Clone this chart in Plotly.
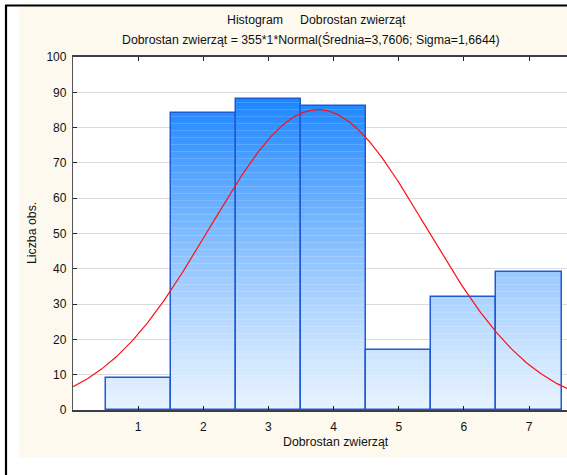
import numpy as np
import plotly.graph_objects as go

# ---- data ----
categories = [1, 2, 3, 4, 5, 6, 7]
counts = [9, 84, 88, 86, 17, 32, 39]
n_obs = 355
bin_width = 1
mean_val = 3.7606
sigma_val = 1.6644
y_ticks = [0, 10, 20, 30, 40, 50, 60, 70, 80, 90, 100]

title1 = "Histogram     Dobrostan zwierząt"
title2 = "Dobrostan zwierząt = 355*1*Normal(Średnia=3,7606; Sigma=1,6644)"
x_title = "Dobrostan zwierząt"
y_title = "Liczba obs."

# ---- geometry (pixels) ----
W, H = 567, 475
ML, MR, MT, MB = 73, 0, 57, 65
PW = W - ML - MR
PH = H - MT - MB
X_MAX = 7.583
FONT = "Liberation Sans, Arial, sans-serif"


def px_x(px):
    return (px - ML) / PW


def px_y(py):
    return (H - MB - py) / PH


# ---- gradient fill segments (colour depends on absolute y) ----
light = np.array([230, 242, 255])
dark = np.array([28, 134, 255])
top_ref = 88.0
seg_x, seg_base, seg_h, seg_col = [], [], [], []
step = 1.0
for c, v in zip(categories, counts):
    lo = 0.0
    while lo < v - 1e-9:
        hi = min(lo + step, v)
        t = min((lo + hi) / 2 / top_ref, 1.0) ** 1.2
        col = light + (dark - light) * t
        seg_x.append(c)
        seg_base.append(lo)
        seg_h.append(hi - lo)
        seg_col.append("rgb(%d,%d,%d)" % tuple(col.round().astype(int)))
        lo = hi

fig = go.Figure()
fig.add_trace(go.Bar(
    x=seg_x, y=seg_h, base=seg_base, width=1.0,
    marker=dict(color=seg_col, line=dict(width=0)),
    hoverinfo="skip", showlegend=False,
))
fig.add_trace(go.Bar(
    x=categories, y=counts, width=1.0,
    marker=dict(color="rgba(0,0,0,0)", line=dict(color="#1f5ad6", width=1.5),
                pattern=dict(shape="-", fgcolor="white", fgopacity=0.22,
                             size=7, solidity=0.1)),
    showlegend=False,
))

# normal curve from the stated fit parameters
xc = np.linspace(0, X_MAX, 400)
yc = n_obs * bin_width * np.exp(-0.5 * ((xc - mean_val) / sigma_val) ** 2) / (sigma_val * np.sqrt(2 * np.pi))
fig.add_trace(go.Scatter(x=xc, y=yc, mode="lines", line=dict(color="#ff1010", width=1.2),
                         showlegend=False, hoverinfo="skip"))

shapes = [
    # cream panel
    dict(type="rect", xref="paper", yref="paper", x0=px_x(19), x1=px_x(W + 5),
         y0=px_y(457.5), y1=px_y(6.5), fillcolor="#fdf9ee", line=dict(width=0), layer="below"),
    # white plot area
    dict(type="rect", xref="paper", yref="paper", x0=0, x1=1, y0=0, y1=1,
         fillcolor="white", line=dict(width=0), layer="below"),
    # black frame lines
    dict(type="line", xref="paper", yref="paper", x0=px_x(6), x1=px_x(6),
         y0=px_y(5), y1=px_y(H + 5), line=dict(color="black", width=2.2), layer="above"),
    dict(type="line", xref="paper", yref="paper", x0=px_x(5), x1=px_x(W + 5),
         y0=px_y(5.5), y1=px_y(5.5), line=dict(color="black", width=2.2), layer="above"),
]

annotations = [
    dict(text=title1, x=px_x(316), y=px_y(20), xref="paper", yref="paper",
         showarrow=False, font=dict(size=12.3, color="#111", family=FONT), xanchor="center", yanchor="middle"),
    dict(text=title2, x=px_x(311), y=px_y(40), xref="paper", yref="paper",
         showarrow=False, font=dict(size=12.3, color="#111", family=FONT), xanchor="center", yanchor="middle"),
    dict(text=x_title, x=px_x(336), y=px_y(442), xref="paper", yref="paper",
         showarrow=False, font=dict(size=12.3, color="#111", family=FONT), xanchor="center", yanchor="middle"),
    dict(text=y_title, x=px_x(32), y=px_y(233), xref="paper", yref="paper", textangle=-90,
         showarrow=False, font=dict(size=12.3, color="#111", family=FONT), xanchor="center", yanchor="middle"),
]

fig.update_layout(
    width=W, height=H, margin=dict(l=ML, r=MR, t=MT, b=MB, pad=0),
    paper_bgcolor="white", plot_bgcolor="white",
    barmode="overlay", bargap=0,
    font=dict(family=FONT, size=12, color="#111"),
    shapes=shapes, annotations=annotations,
    xaxis=dict(range=[0, X_MAX], tickvals=categories, ticktext=[str(c) for c in categories],
               showgrid=False, zeroline=False, showline=True, linecolor="#3a3d4a", linewidth=1.6,
               mirror="ticks", ticks="inside", ticklen=4, tickcolor="#222", tickwidth=1,
               ticklabelstandoff=5),
    yaxis=dict(range=[0, 100], tickvals=y_ticks, showgrid=True, gridcolor="#dcdcdc", gridwidth=1,
               zeroline=False, showline=True, linecolor="#555", linewidth=1.3,
               ticks="inside", ticklen=4, tickcolor="#222", ticklabelstandoff=3),
)

fig.write_html("out.html")
